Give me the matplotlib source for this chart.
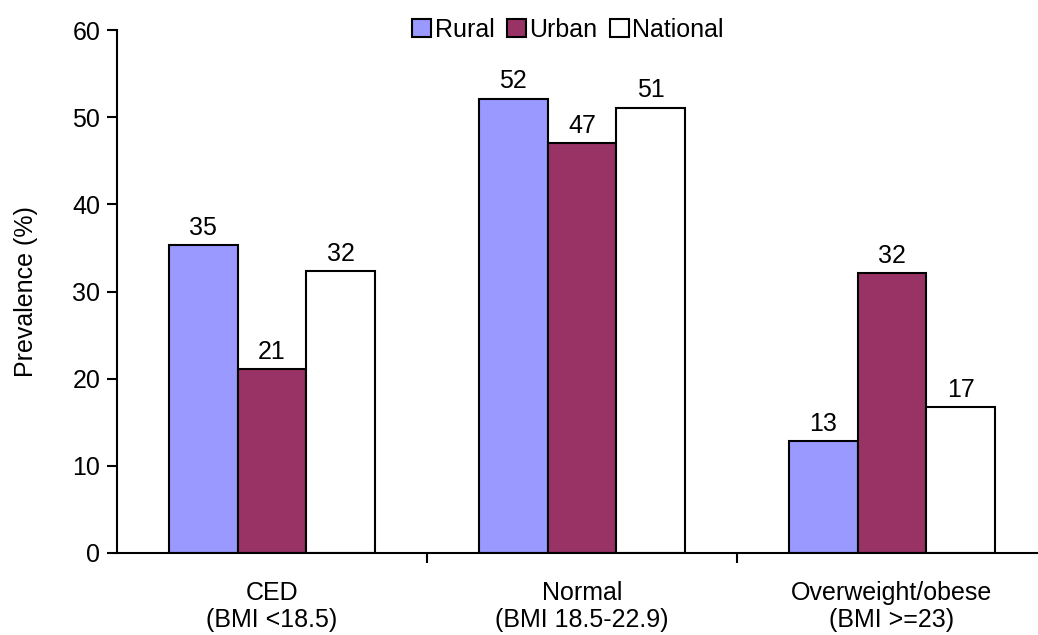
import numpy as np
import matplotlib.pyplot as plt
from matplotlib.patches import Patch

plt.rcParams['font.family'] = ['Liberation Sans', 'DejaVu Sans']
FS = 18

# data
categories = ["CED\n(BMI <18.5)", "Normal\n(BMI 18.5-22.9)", "Overweight/obese\n(BMI >=23)"]
series = ["Rural", "Urban", "National"]
rural = [35.3, 52.1, 12.8]
urban = [21.1, 47.0, 32.1]
national = [32.3, 51.1, 16.7]
colors = ["#9999FF", "#993366", "#FFFFFF"]

fig = plt.figure(figsize=(10.38, 6.35), dpi=100)
ax = fig.add_axes([117/1038, 1 - 553/635, 930/1038, 523/635])

x = np.arange(len(categories))
w = 0.222
for i, (vals, c) in enumerate(zip([rural, urban, national], colors)):
    pos = x + (i - 1) * w
    ax.bar(pos, vals, width=w, color=c, edgecolor="black", linewidth=1.5)
    for p, v in zip(pos, vals):
        ax.annotate(f"{v:.0f}", (p, v), xytext=(0, 7.5), textcoords="offset points",
                    ha="center", va="baseline", fontsize=FS)

ax.set_xlim(-0.5, 2.5)
ax.set_ylim(0, 60)
ax.set_yticks(range(0, 61, 10))
ax.set_xticks([0.5, 1.5], minor=False)
ax.set_xticklabels([])
ax.set_xticks(x, minor=True)
ax.set_xticklabels(categories, minor=True, fontsize=FS, linespacing=1.15)
ax.tick_params(axis="x", which="minor", length=0, pad=20)
ax.tick_params(axis="x", which="major", length=7, direction="out", width=1.5)
ax.tick_params(axis="y", length=7, width=1.5, labelsize=FS, pad=5)
for s in ["top", "right"]:
    ax.spines[s].set_visible(False)
for s in ["left", "bottom"]:
    ax.spines[s].set_linewidth(1.5)
ax.set_ylabel("Prevalence (%)", fontsize=FS)
ax.yaxis.set_label_coords((38 - 117) / 930, 0.5)

handles = [Patch(facecolor=c, edgecolor="black", linewidth=1.5, label=s) for s, c in zip(series, colors)]
fig.legend(handles=handles, loc="center", bbox_to_anchor=(568/1038, 1 - 30/635), ncol=3, frameon=False,
           fontsize=FS, handlelength=0.75, handleheight=0.75, handletextpad=0.15, columnspacing=0.5,
           borderaxespad=0)

fig.savefig("out.png", dpi=100)
